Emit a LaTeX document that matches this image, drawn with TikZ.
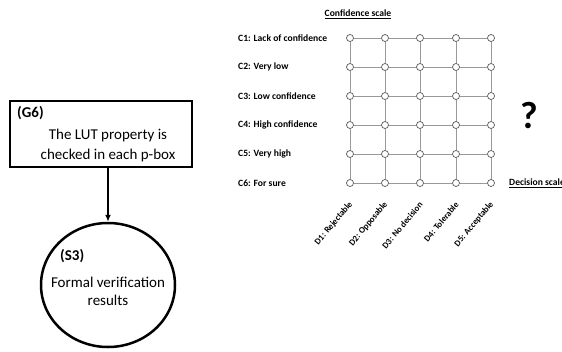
\documentclass[tikz,border=0pt]{standalone}
\usepackage{fontspec}
\setmainfont{Carlito}
\usetikzlibrary{arrows.meta}
\usetikzlibrary{shapes.geometric}

\begin{document}
\begin{tikzpicture}[x=1pt,y=-1pt,
    gridpt/.style={circle,draw=black!65,fill=white,line width=0.7pt,inner sep=0pt,minimum size=7pt},
    gridline/.style={draw=black!40,line width=1pt},
    scalelabel/.style={font=\fontsize{9.6}{11}\selectfont\bfseries,inner sep=0pt},
    decisionlabel/.style={font=\fontsize{8.8}{10}\selectfont\bfseries,inner sep=0pt,rotate=50,anchor=east},
    boxtext/.style={font=\fontsize{15}{18}\selectfont,inner sep=0pt}]
    \useasboundingbox (0,0) rectangle (562,351);

    % Left part: goal box and result ellipse
    \node[draw,line width=2.5pt,minimum width=182pt,minimum height=66pt] (g6) at (101,134) {};
    \node[boxtext,font=\fontsize{15}{18}\selectfont\bfseries,anchor=west] (g6lbl) at (17,113) {(G6)};
    \node[boxtext] (g6l1) at (108,135) {The LUT property is};
    \node[boxtext] (g6l2) at (108,155) {checked in each p-box};
    \node[draw,ellipse,line width=2.5pt,minimum width=134pt,minimum height=124pt] (s3) at (108,285) {};
    \node[boxtext,font=\fontsize{15}{18}\selectfont\bfseries,anchor=west] (s3lbl) at (60,256) {(S3)};
    \node[boxtext] (s3l1) at (108,282) {Formal verification};
    \node[boxtext] (s3l2) at (108,300) {results};
    \draw[line width=1.5pt,-{Latex[length=7pt,width=6pt]}] (g6.south -| s3.north) -- (s3.north);

    % Grid of confidence / decision points
    \foreach \y [count=\i] in {38,67,96,125,154,183} {
        \foreach \x [count=\j] in {350,385,420,456,491} {
            \node[gridpt] (p-\i-\j) at (\x,\y) {};
        }
    }
    \foreach \i in {1,...,6} {
        \foreach \j/\k in {1/2,2/3,3/4,4/5} {
            \draw[gridline] (p-\i-\j) -- (p-\i-\k);
        }
    }
    \foreach \j in {1,...,5} {
        \foreach \i/\k in {1/2,2/3,3/4,4/5,5/6} {
            \draw[gridline] (p-\i-\j) -- (p-\k-\j);
        }
    }

    % Scale labels
    \foreach \i/\txt in {1/C1: Lack of confidence,2/C2: Very low,3/C3: Low confidence,
        4/C4: High confidence,5/C5: Very high,6/C6: For sure} {
        \node[scalelabel,anchor=west] (c\i) at (238,0 |- p-\i-1) {\txt};
    }
    \foreach \j/\txt in {1/D1: Rejectable,2/D2: Opposable,3/D3: No decision,
        4/D4: Tolerable,5/D5: Acceptable} {
        \node[decisionlabel] (d\j) at ([xshift=1pt,yshift=-20pt]p-6-\j) {\txt};
    }
    \node[scalelabel] (conf) at (358,14) {\underline{Confidence scale}};
    \node[scalelabel,anchor=west] (dec) at (509,0 |- p-6-5) {\underline{Decision scale}};
    \node[font=\fontsize{38}{40}\selectfont\bfseries,inner sep=0pt] (qm) at (529,116) {?};
\end{tikzpicture}
\end{document}
